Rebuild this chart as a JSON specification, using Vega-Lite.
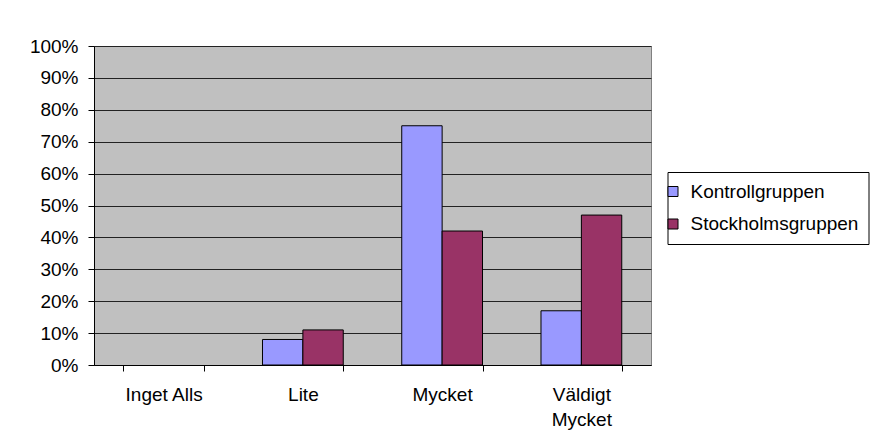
{
  "$schema": "https://vega.github.io/schema/vega-lite/v6.json",
  "autosize": {"type": "none"},
  "padding": {"left": 94, "top": 46, "right": 220, "bottom": 79},
  "width": 557,
  "height": 319,
  "background": "white",
  "data": {
    "values": [
      {"kategori": "Inget Alls", "grupp": "Kontrollgruppen", "andel": 0},
      {"kategori": "Inget Alls", "grupp": "Stockholmsgruppen", "andel": 0},
      {"kategori": "Lite", "grupp": "Kontrollgruppen", "andel": 0.08},
      {"kategori": "Lite", "grupp": "Stockholmsgruppen", "andel": 0.11},
      {"kategori": "Mycket", "grupp": "Kontrollgruppen", "andel": 0.75},
      {"kategori": "Mycket", "grupp": "Stockholmsgruppen", "andel": 0.42},
      {"kategori": "Väldigt Mycket", "grupp": "Kontrollgruppen", "andel": 0.17},
      {"kategori": "Väldigt Mycket", "grupp": "Stockholmsgruppen", "andel": 0.47}
    ]
  },
  "mark": {"type": "bar", "stroke": "black", "strokeWidth": 1},
  "encoding": {
    "x": {
      "field": "kategori",
      "type": "nominal",
      "sort": ["Inget Alls", "Lite", "Mycket", "Väldigt Mycket"],
      "scale": {"paddingInner": 0.42, "paddingOuter": 0.21},
      "axis": {
        "title": null,
        "labelAngle": 0,
        "labelFont": "Liberation Sans",
        "labelFontSize": 19,
        "labelColor": "black",
        "labelPadding": 14,
        "labelBaseline": "top",
        "labelLineHeight": 25,
        "labelExpr": "datum.label == 'Väldigt Mycket' ? ['Väldigt', 'Mycket'] : datum.label",
        "tickBand": "extent",
        "tickSize": 6,
        "tickColor": "black",
        "domainColor": "black",
        "grid": false
      }
    },
    "xOffset": {"field": "grupp", "type": "nominal", "sort": ["Kontrollgruppen", "Stockholmsgruppen"]},
    "y": {
      "field": "andel",
      "type": "quantitative",
      "stack": null,
      "scale": {"domain": [0, 1], "nice": false},
      "axis": {
        "title": null,
        "format": ".0%",
        "values": [0, 0.1, 0.2, 0.3, 0.4, 0.5, 0.6, 0.7, 0.8, 0.9, 1],
        "labelFont": "Liberation Sans",
        "labelFontSize": 19,
        "labelColor": "black",
        "labelPadding": 10,
        "tickSize": 6,
        "tickColor": "black",
        "domainColor": "black",
        "grid": true,
        "gridColor": "#222222",
        "gridOpacity": 1,
        "gridWidth": 1
      }
    },
    "strokeOpacity": {
      "condition": {"test": "datum.andel == 0", "value": 0},
      "value": 1
    },
    "color": {
      "field": "grupp",
      "type": "nominal",
      "scale": {"domain": ["Kontrollgruppen", "Stockholmsgruppen"], "range": ["#9999FF", "#993366"]},
      "legend": {
        "title": null,
        "orient": "none",
        "legendX": 573.5,
        "legendY": 126,
        "direction": "vertical",
        "strokeColor": "black",
        "fillColor": "white",
        "padding": 10,
        "symbolOffset": -14,
        "symbolType": "square",
        "symbolSize": 100,
        "symbolStrokeColor": "black",
        "symbolStrokeWidth": 1,
        "symbolOpacity": 1,
        "labelFont": "Liberation Sans",
        "labelFontSize": 19,
        "labelColor": "black",
        "labelOffset": 8,
        "labelLimit": 300,
        "rowPadding": 12.5
      }
    }
  },
  "config": {
    "view": {"fill": "#C0C0C0", "stroke": "#808080"},
    "axis": {"domainWidth": 1, "tickWidth": 1}
  }
}
